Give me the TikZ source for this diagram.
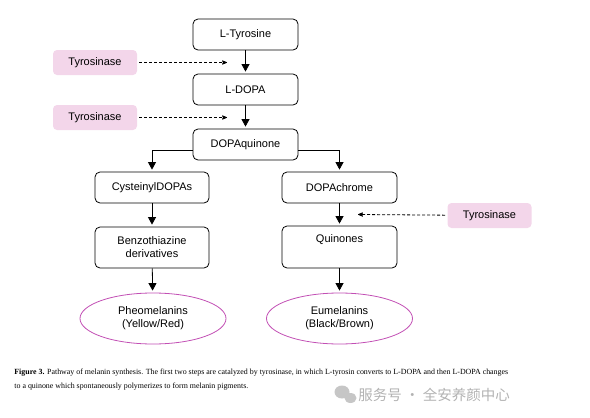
\documentclass[tikz,border=0pt]{standalone}
\usepackage{fontspec}
\setmainfont{Liberation Serif}
\setsansfont{Liberation Sans}
\newfontfamily\cjk{Noto Sans CJK SC}
\usetikzlibrary{arrows,arrows.meta,shapes.geometric}

\definecolor{enzpink}{HTML}{F3D6EA}
\definecolor{melpurple}{HTML}{C24FB4}

\begin{document}
\begin{tikzpicture}[x=1pt,y=-1pt,->,>={Triangle[width=8pt,length=7.5pt]},
    shorten >=2pt,thick,
    node distance=55pt,font=\sffamily\fontsize{11}{13}\selectfont,
    compound/.style={draw,rounded corners=5pt,minimum width=105pt,
      minimum height=31pt,align=center,inner sep=2pt},
    enzyme/.style={fill=enzpink,rounded corners=4pt,minimum width=84pt,
      minimum height=25pt},
    pigment/.style={ellipse,draw=melpurple,minimum width=146pt,
      minimum height=51pt,align=center,inner sep=0pt},
    enzarrow/.style={dashed,dash pattern=on 3pt off 2pt,>=stealth',
      shorten <=2pt,shorten >=0pt}]
  \path[use as bounding box] (0,0) rectangle (590,418);

  % main pathway
  \node[compound] (tyr) at (245.5,34.5) {L-Tyrosine};
  \node[compound] (dopa) [below of=tyr] {L-DOPA};
  \node[compound] (dq) [below of=dopa] {DOPAquinone};
  \node[compound, minimum width=114pt] (cys) at (152,187.5) {CysteinylDOPAs};
  \node[compound, minimum width=114pt, minimum height=41pt] (benzo) at (152,247.5)
    {Benzothiazine\\derivatives};
  \node[pigment] (pheo) at (153,318.5) {Pheomelanins\\(Yellow/Red)};
  \node[compound, minimum width=115pt] (dc) at (339.5,187.5) {DOPAchrome};
  \node[compound, minimum width=115pt, minimum height=42pt] (quin) at (339.5,247)
    {Quinones\\\strut};
  \node[pigment] (eu) at (339.5,318.5) {Eumelanins\\(Black/Brown)};

  % enzyme
  \node[enzyme] (enz1) at (95,62.5) {Tyrosinase};
  \node[enzyme] (enz2) at (95,117.5) {Tyrosinase};
  \node[enzyme] (enz3) at (489.5,215.5) {Tyrosinase};
  \coordinate (t1) at (227,62.5);
  \coordinate (t2) at (227,117.5);
  \coordinate (t3) at (358,214.5);

  \path (tyr) edge (dopa)
    (dopa) edge (dq)
    (cys) edge (benzo)
    (benzo) edge (pheo)
    (dc) edge (quin)
    (quin) edge (eu);
  \draw ([yshift=-5.5pt]dq.west) -| (cys);
  \draw ([yshift=-5.5pt]dq.east) -| (dc);
  \draw[enzarrow] (enz1) -- (t1);
  \draw[enzarrow] (enz2) -- (t2);
  \draw[enzarrow] (enz3) -- (t3);

  % caption
  \node[anchor=base west,inner sep=0pt,font=\rmfamily\fontsize{7.9}{9}\selectfont]
    (cap1) at (14,374.5) {\textbf{Figure 3.} Pathway of melanin synthesis. The first two steps are catalyzed by tyrosinase, in which L-tyrosin converts to L-DOPA and then L-DOPA changes};
  \node[anchor=base west,inner sep=0pt,font=\rmfamily\fontsize{7.9}{9}\selectfont]
    (cap2) at (14,388.5) {to a quinone which spontaneously polymerizes to form melanin pigments.};

  % watermark
  \fill[gray!45] (342,392) ellipse (7.5pt and 6.5pt);
  \fill[gray!45] (350.5,398) ellipse (6pt and 5pt);
  \node[anchor=west,inner sep=0pt,text=gray!60,font=\cjk\fontsize{14.5}{15}\selectfont]
    (wm) at (358,394.5) {服务号 · 全安养颜中心};
\end{tikzpicture}
\end{document}
